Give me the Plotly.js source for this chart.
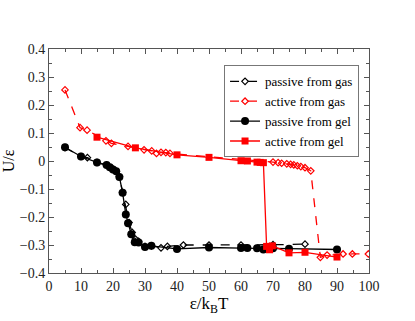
<!DOCTYPE html>
<html>
<head>
<meta charset="utf-8">
<script src="https://cdn.plot.ly/plotly-3.0.1.min.js"></script>
<style>
  html, body { margin: 0; padding: 0; background: #fff; }
  #chart { width: 415px; height: 321px; }
</style>
</head>
<body>
<div id="chart"></div>
<script>
// passive from gas (open black diamonds, dashed)
var passiveGasX = [5, 10, 12, 15, 18, 20, 21, 22, 23, 24, 25, 26, 27, 28, 30, 32, 35, 37, 42, 50, 60, 70, 80];
var passiveGasY = [0.048, 0.016, 0.012, -0.005, -0.015, -0.029, -0.037, -0.056, -0.112, -0.155, -0.22, -0.255, -0.279, -0.287, -0.305, -0.303, -0.31, -0.305, -0.3, -0.3, -0.3, -0.299, -0.297];

// active from gas (open red diamonds, dashed)
var activeGasX = [5, 9.7, 11.9, 17.8, 19.5, 24.7, 29.7, 32.1, 33.6, 35, 36.5, 37.8, 70, 71.6, 72.7, 74.3, 75.5, 76.5, 77.6, 78.7, 80, 81.8, 84.8, 86.9, 91.9, 94.8, 99.8];
var activeGasY = [0.254, 0.119, 0.11, 0.072, 0.063, 0.052, 0.04, 0.036, 0.027, 0.031, 0.03, 0.027, -0.004, -0.006, -0.008, -0.01, -0.012, -0.014, -0.017, -0.02, -0.024, -0.035, -0.344, -0.336, -0.332, -0.332, -0.332];

// passive from gel (filled black circles, solid)
var passiveGelX = [5, 10, 15, 18, 19, 20, 21, 22, 23, 24, 24.7, 25.7, 26.8, 28, 30, 32, 40, 50, 60, 62, 65, 67, 70, 75, 90];
var passiveGelY = [0.049, 0.016, -0.005, -0.014, -0.022, -0.03, -0.037, -0.057, -0.113, -0.191, -0.222, -0.262, -0.29, -0.291, -0.307, -0.303, -0.314, -0.309, -0.311, -0.311, -0.312, -0.316, -0.312, -0.313, -0.316];

// active from gel (filled red squares, solid)
var activeGelX = [15, 27, 40, 50, 60, 62, 65, 66, 67, 68, 68.9, 69.8, 75, 80, 90];
var activeGelY = [0.085, 0.047, 0.022, 0.013, 0.001, 0.0, -0.004, -0.005, -0.006, -0.305, -0.317, -0.303, -0.328, -0.326, -0.343];

var serif = "'Liberation Serif', 'Times New Roman', Times, 'DejaVu Serif', serif";

var traces = [
  {
    x: passiveGasX, y: passiveGasY, name: 'passive from gas', mode: 'lines+markers',
    line: { color: 'black', width: 1.3, dash: 'dash' },
    marker: { symbol: 'diamond-open', size: 5, color: 'black', line: { width: 1.2 } }
  },
  {
    x: activeGasX, y: activeGasY, name: 'active from gas', mode: 'lines+markers',
    line: { color: 'red', width: 1.3, dash: 'dash' },
    marker: { symbol: 'diamond-open', size: 5, color: 'red', line: { width: 1.2 } }
  },
  {
    x: passiveGelX, y: passiveGelY, name: 'passive from gel', mode: 'lines+markers',
    line: { color: 'black', width: 1.3 },
    marker: { symbol: 'circle', size: 8, color: 'black' }
  },
  {
    x: activeGelX, y: activeGelY, name: 'active from gel', mode: 'lines+markers',
    line: { color: 'red', width: 1.3 },
    marker: { symbol: 'square', size: 7, color: 'red' }
  }
];

var axisCommon = {
  showgrid: false, zeroline: false,
  showline: true, linecolor: '#555', linewidth: 1, mirror: 'ticks',
  ticks: 'inside', ticklen: 5, tickcolor: '#555', tickwidth: 1,
  tickfont: { family: serif, size: 14, color: '#222' }
};

var layout = {
  width: 415, height: 321,
  margin: { l: 49, r: 46, t: 49, b: 48 },
  paper_bgcolor: 'white', plot_bgcolor: 'white',
  showlegend: true,
  legend: {
    x: 0.547, y: 0.927, xanchor: 'left', yanchor: 'top',
    bgcolor: 'white', bordercolor: '#777', borderwidth: 1,
    font: { family: serif, size: 13, color: 'black' },
    tracegroupgap: 0, itemwidth: 30
  },
  xaxis: Object.assign({}, axisCommon, {
    range: [0, 100], dtick: 10, tick0: 0,
    minor: { dtick: 5, ticks: 'inside', ticklen: 3, tickcolor: '#555' },
    title: { text: 'ε/k<sub>B</sub>T', font: { family: serif, size: 17, color: 'black' }, standoff: 4 }
  }),
  yaxis: Object.assign({}, axisCommon, {
    range: [-0.4, 0.4], dtick: 0.1, tick0: 0,
    minor: { dtick: 0.05, ticks: 'inside', ticklen: 3, tickcolor: '#555' },
    title: { text: 'U/ε', font: { family: serif, size: 16, color: 'black' }, standoff: 4 }
  })
};

Plotly.newPlot('chart', traces, layout, { displayModeBar: false, staticPlot: true });
</script>
</body>
</html>
